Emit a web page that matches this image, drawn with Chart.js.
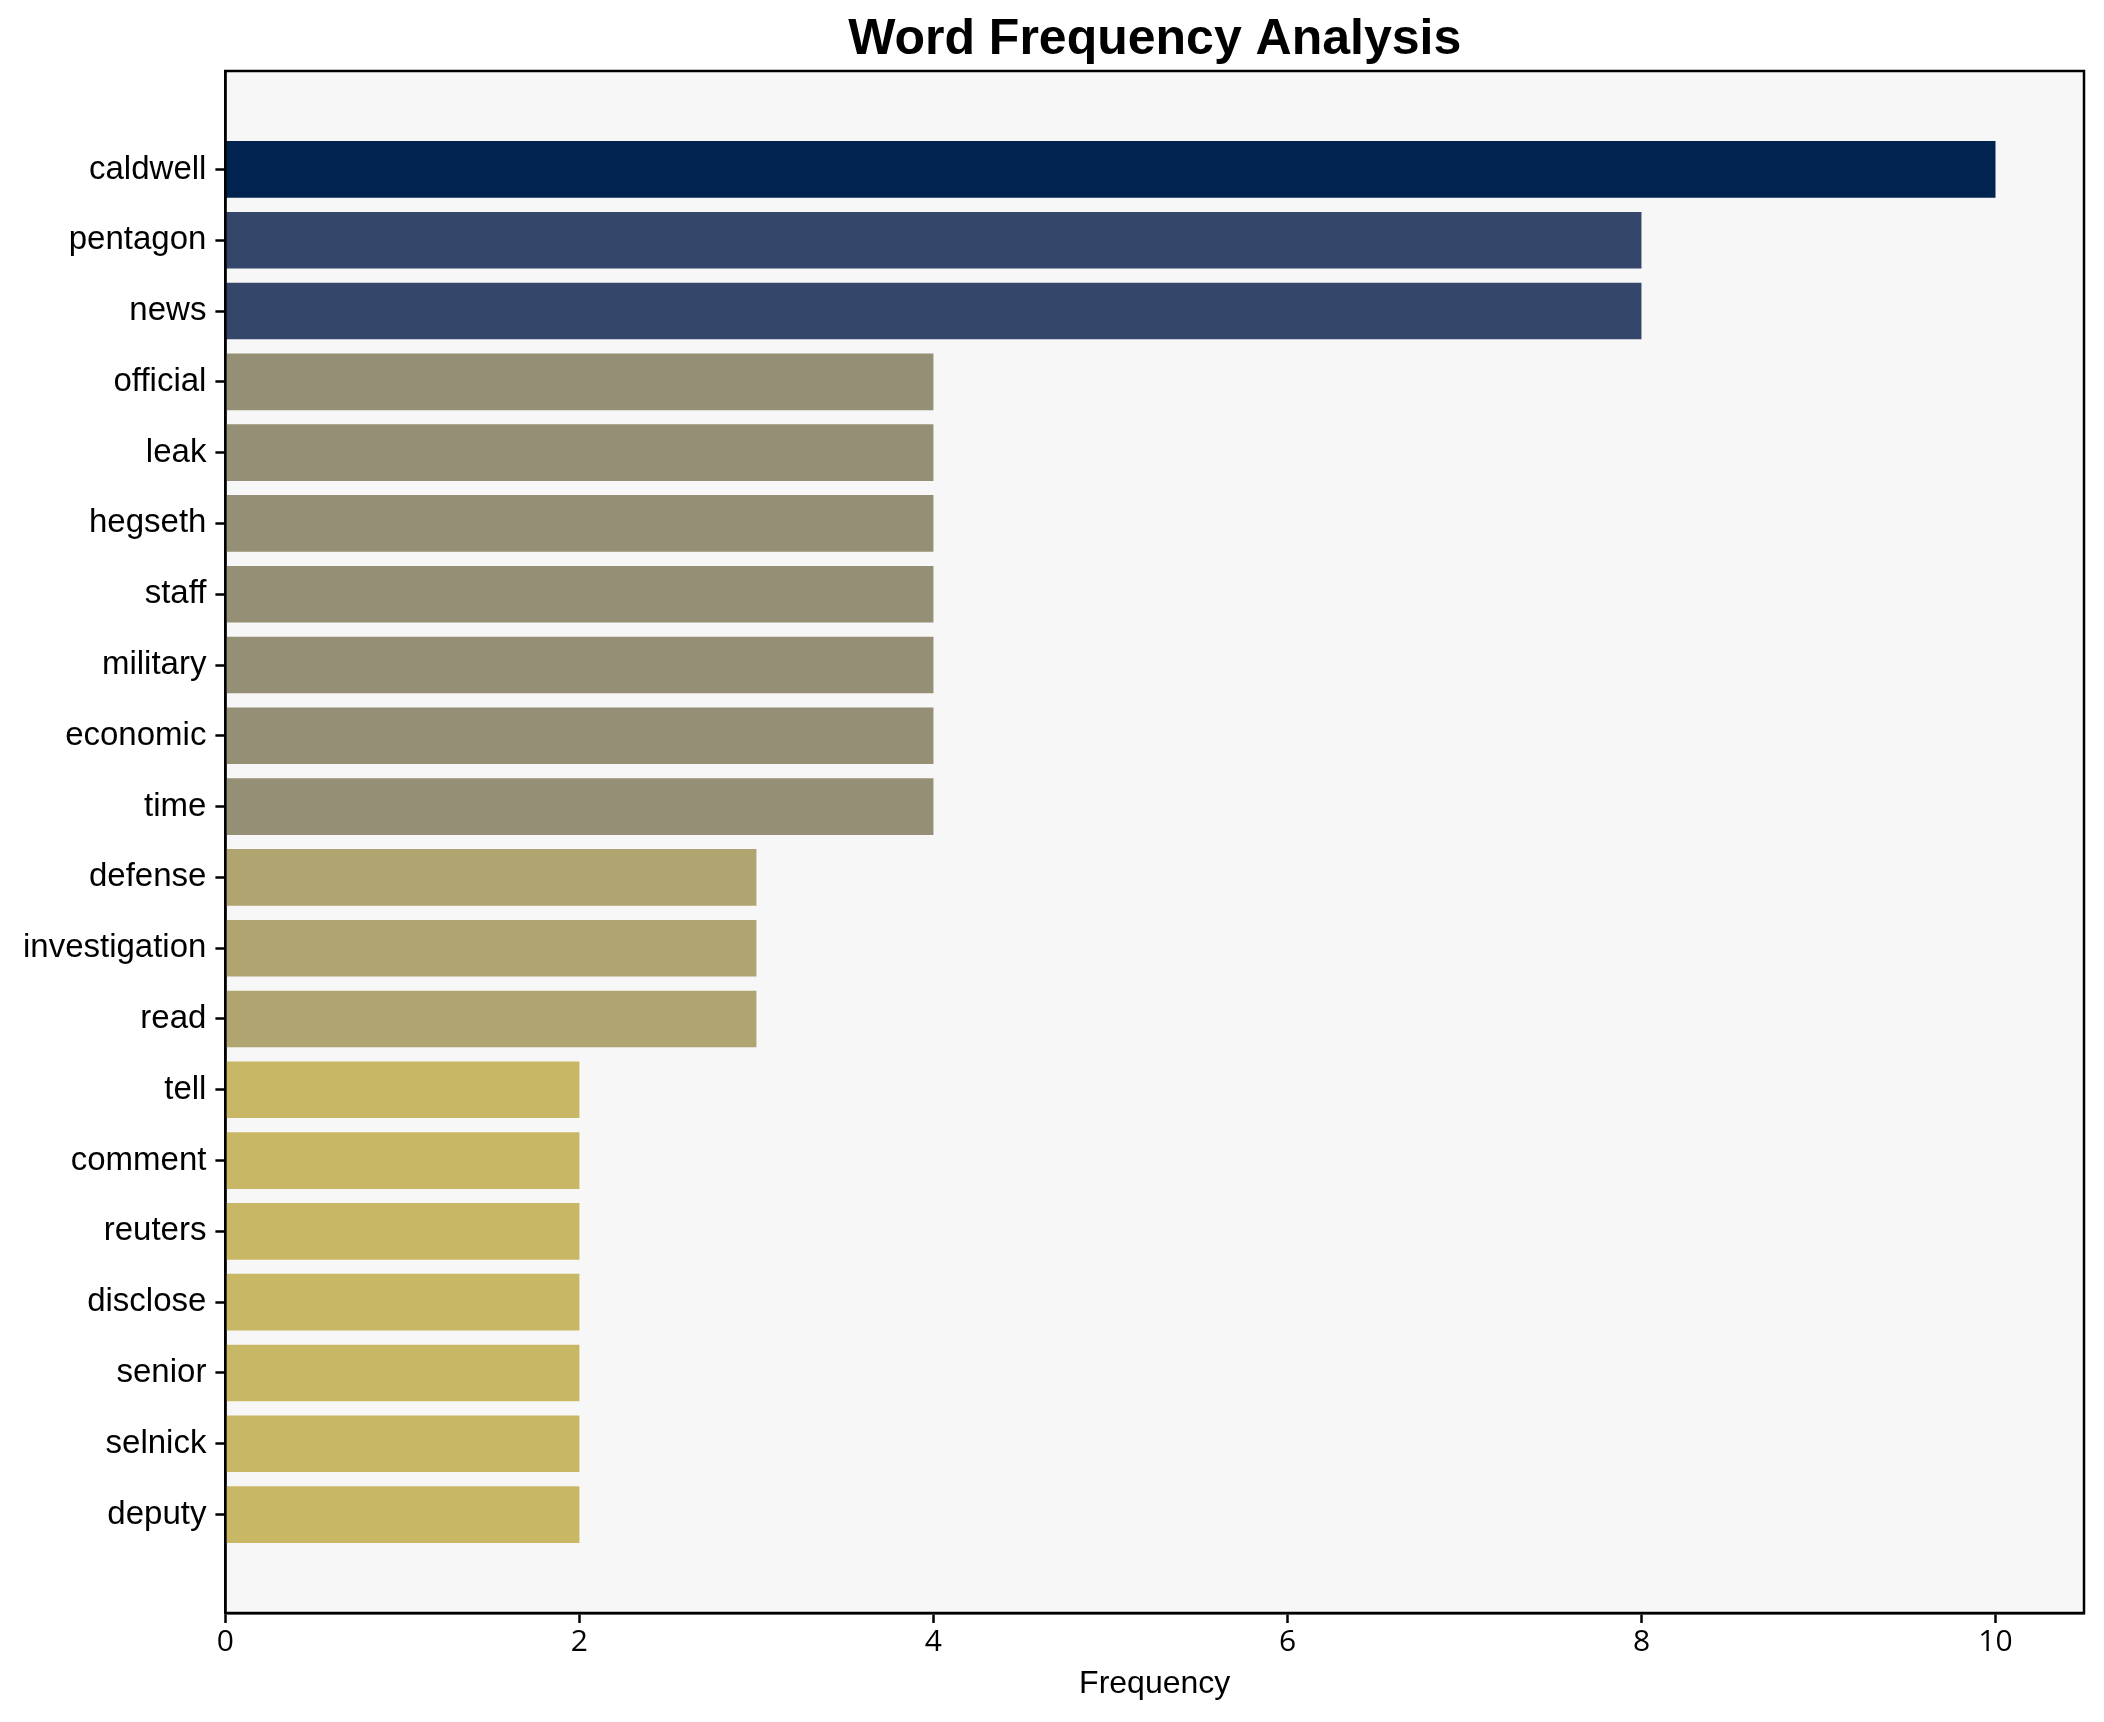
<!DOCTYPE html>
<html>
<head>
<meta charset="utf-8">
<script src="https://cdn.jsdelivr.net/npm/chart.js@4"></script>
<style>
    html, body { margin: 0; padding: 0; background: #ffffff; }
    #wrap { width: 2104px; height: 1722px; }
</style>
</head>
<body>
<div id="wrap"><canvas id="wordChart" width="2104" height="1722"></canvas></div>
<script>
// Word counts, top to bottom as in the picture
const words = ["caldwell", "pentagon", "news", "official", "leak", "hegseth", "staff", "military",
    "economic", "time", "defense", "investigation", "read", "tell", "comment", "reuters",
    "disclose", "senior", "selnick", "deputy"];
const counts = [10, 8, 8, 4, 4, 4, 4, 4, 4, 4, 3, 3, 3, 2, 2, 2, 2, 2, 2, 2];
const xTicks = [0, 2, 4, 6, 8, 10];

// colour per frequency (cividis-like)
function colorFor(v) {
    if (v >= 10) return "#00234f";
    if (v >= 8) return "#35466b";
    if (v >= 4) return "#958f75";
    if (v >= 3) return "#b0a470";
    return "#c8b866";
}

const plotBg = {
    id: "plotBg",
    beforeDraw(chart) {
        const { ctx, chartArea: a } = chart;
        ctx.save();
        ctx.fillStyle = "#ffffff";
        ctx.fillRect(0, 0, chart.width, chart.height);
        ctx.fillStyle = "#f7f7f7";
        ctx.fillRect(a.left, a.top, a.right - a.left, a.bottom - a.top);
        ctx.restore();
    },
    afterDatasetsDraw(chart) {
        const { ctx, chartArea: a } = chart;
        ctx.save();
        ctx.strokeStyle = "#000000";
        ctx.lineWidth = 2.5;
        ctx.strokeRect(a.left, a.top, a.right - a.left, a.bottom - a.top);
        ctx.restore();
    }
};

const ctx = document.getElementById("wordChart").getContext("2d");

new Chart(ctx, {
    type: "bar",
    data: {
        datasets: [{
            data: counts.map((v, i) => ({ x: v, y: i })),
            backgroundColor: (c) => colorFor(counts[c.dataIndex]),
            borderWidth: 0,
            barPercentage: 0.8,
            categoryPercentage: 1.0
        }]
    },
    options: {
        indexAxis: "y",
        responsive: false,
        animation: false,
        devicePixelRatio: 1,
        layout: { padding: { left: 0, right: 20, top: 0, bottom: 0 } },
        scales: {
            x: {
                type: "linear",
                min: 0,
                max: 10.5,
                afterBuildTicks: (s) => { s.ticks = xTicks.map(v => ({ value: v })); },
                afterFit: (s) => { s.height = 109; },
                ticks: {
                    color: "#000000",
                    font: { family: "'Open Sans', 'Noto Sans', sans-serif", size: 30 },
                    padding: 1
                },
                grid: {
                    drawOnChartArea: false,
                    tickLength: 10,
                    tickColor: "#000000",
                    tickWidth: 2.5
                },
                border: { display: true, color: "#000000", width: 2.5 },
                title: {
                    display: true,
                    text: "Frequency",
                    color: "#000000",
                    font: { family: "'Liberation Sans', Arial", size: 32 },
                    padding: { top: 0, bottom: 19 }
                }
            },
            y: {
                type: "linear",
                reverse: true,
                offset: false,
                min: -1.39,
                max: words.length - 1 + 1.39,
                afterBuildTicks: (s) => { s.ticks = words.map((w, i) => ({ value: i })); },
                afterFit: (s) => { s.width = 225.4; },
                ticks: {
                    autoSkip: false,
                    color: "#000000",
                    font: { family: "'Liberation Sans', Arial", size: 33 },
                    padding: 9,
                    callback: (v) => words[v]
                },
                grid: {
                    offset: false,
                    drawOnChartArea: false,
                    tickLength: 10,
                    tickColor: "#000000",
                    tickWidth: 2.5
                },
                border: { display: true, color: "#000000", width: 2.5 }
            }
        },
        plugins: {
            legend: { display: false },
            tooltip: { enabled: false },
            title: {
                display: true,
                fullSize: false,
                text: "Word Frequency Analysis",
                color: "#000000",
                font: { family: "'Liberation Sans', Arial", size: 50, weight: "bold" },
                padding: { top: 10, bottom: 1 }
            }
        }
    },
    plugins: [plotBg]
});
</script>
</body>
</html>
